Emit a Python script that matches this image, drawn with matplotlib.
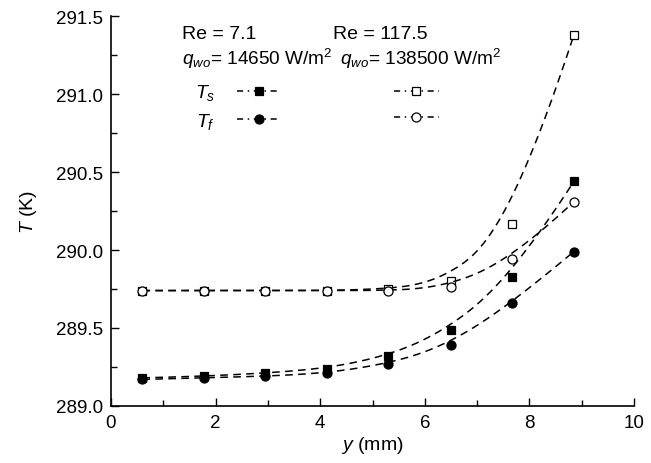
import numpy as np
import matplotlib.pyplot as plt
from matplotlib.lines import Line2D

plt.rcParams['font.family'] = ['Liberation Sans', 'DejaVu Sans']
plt.rcParams['mathtext.fontset'] = 'custom'
plt.rcParams['mathtext.rm'] = 'Liberation Sans'
plt.rcParams['mathtext.it'] = 'Liberation Sans:italic'

# measurement positions (mm)
y_mm = [0.6, 1.77, 2.95, 4.12, 5.3, 6.5, 7.67, 8.85]

# Re = 7.1, q_wo = 14650 W/m2
Ts_low = [289.18, 289.19, 289.21, 289.24, 289.32, 289.49, 289.83, 290.44]
Tf_low = [289.17, 289.18, 289.19, 289.21, 289.27, 289.39, 289.66, 289.99]
# Re = 117.5, q_wo = 138500 W/m2
Ts_high = [289.74, 289.74, 289.74, 289.74, 289.75, 289.80, 290.17, 291.38]
Tf_high = [289.74, 289.74, 289.74, 289.74, 289.74, 289.76, 289.94, 290.31]


def bspline(px, py, k=3, n_out=300):
    # clamped cubic B-spline with the data points as control points
    px = np.asarray(px, float)
    py = np.asarray(py, float)
    n = len(px)
    inner = np.arange(1, n - k)
    knots = np.concatenate([np.zeros(k + 1), inner, np.full(k + 1, n - k)])
    u = np.linspace(0, n - k, n_out)
    u[-1] -= 1e-9
    # Cox-de Boor
    B = np.zeros((n_out, len(knots) - 1))
    for i in range(len(knots) - 1):
        B[:, i] = (u >= knots[i]) & (u < knots[i + 1])
    for d in range(1, k + 1):
        Bn = np.zeros((n_out, len(knots) - 1 - d))
        for i in range(len(knots) - 1 - d):
            left = 0.0
            right = 0.0
            if knots[i + d] != knots[i]:
                left = (u - knots[i]) / (knots[i + d] - knots[i]) * B[:, i]
            if knots[i + d + 1] != knots[i + 1]:
                right = (knots[i + d + 1] - u) / (knots[i + d + 1] - knots[i + 1]) * B[:, i + 1]
            Bn[:, i] = left + right
        B = Bn
    return B @ px, B @ py


fig = plt.figure(figsize=(6.51, 4.64), dpi=100)
ax = fig.add_axes([0.1705, 0.123, 0.8035, 0.840])

series = [
    (Ts_low, 's', 'black'),
    (Tf_low, 'o', 'black'),
    (Ts_high, 's', 'white'),
    (Tf_high, 'o', 'white'),
]
handles = []
for vals, mk, fc in series:
    cx, cy = bspline(y_mm, vals)
    ax.plot(cx, cy, color='black', ls=(0, (5, 3.5)), lw=1.1)
    ms = 6.5 if mk == 'o' else 6
    ax.plot(y_mm, vals, ls='none', marker=mk, ms=ms,
            mfc=fc, mec='black', mew=0.9)
    handles.append(Line2D([], [], color='black', lw=1.1, ls=(0, (4, 3, 1, 3)),
                          marker=mk, ms=ms, mfc=fc, mec='black', mew=0.9))

ax.set_xlim(0, 10)
ax.set_ylim(289.0, 291.5)
ax.set_xticks([0, 2, 4, 6, 8, 10])
ax.set_xticks([1, 3, 5, 7, 9], minor=True)
ax.set_yticks([289.0, 289.5, 290.0, 290.5, 291.0, 291.5])
ax.set_yticks([289.25, 289.75, 290.25, 290.75, 291.25], minor=True)
ax.yaxis.set_major_formatter(plt.FormatStrFormatter('%.1f'))
ax.tick_params(direction='in', length=6, width=1, labelsize=13.5, pad=6)
ax.tick_params(which='minor', direction='in', length=4, width=1)
ax.spines['top'].set_visible(False)
ax.spines['right'].set_visible(False)
ax.spines['left'].set_linewidth(1.2)
ax.spines['bottom'].set_linewidth(1.2)

ax.set_xlabel('$y$ (mm)', fontsize=14, labelpad=2)
ax.set_ylabel('$T$ (K)', fontsize=14, labelpad=12)

ax.text(0.136, 0.955, 'Re = 7.1', transform=ax.transAxes, fontsize=14, va='center')
ax.text(0.424, 0.955, 'Re = 117.5', transform=ax.transAxes, fontsize=14, va='center')
ax.text(0.136, 0.893, '$q_{wo}$= 14650 W/m$^2$', transform=ax.transAxes, fontsize=13.7, va='center')
ax.text(0.437, 0.893, '$q_{wo}$= 138500 W/m$^2$', transform=ax.transAxes, fontsize=13.7, va='center')

ax.legend(handles, ['$T_s$', '$T_f$', '', ''], ncol=2, markerfirst=False,
          frameon=False, fontsize=14, loc='upper left',
          bbox_to_anchor=(0.16, 0.83), handlelength=2.3, handletextpad=1.1,
          columnspacing=4.7, labelspacing=0.45, borderpad=0, borderaxespad=0)

fig.savefig('out.png', dpi=100)
